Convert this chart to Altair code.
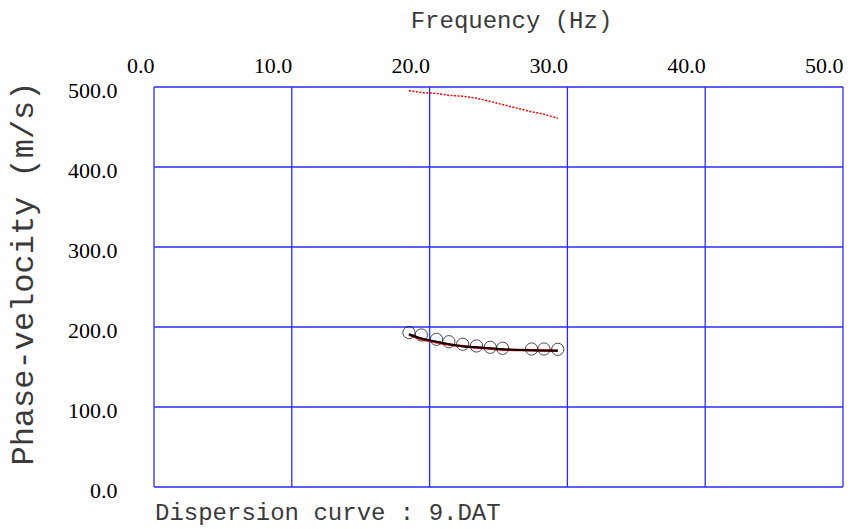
import altair as alt
import pandas as pd

# Frequencies (Hz) of the picked dispersion points
freq = [18.5, 19.4, 20.5, 21.4, 22.4, 23.4, 24.4, 25.3, 27.4, 28.3, 29.3]
# Observed phase velocities (m/s)
observed = [193.0, 190.0, 184.6, 181.6, 178.4, 176.3, 174.6, 173.4, 172.5, 172.5, 172.1]
# Fitted curve (red) and theoretical curve (black)
fitted = [190.5, 185.0, 181.0, 178.0, 175.8, 174.3, 173.0, 172.0, 171.0, 170.6, 170.2]
theory = [191.0, 185.8, 181.7, 178.4, 176.0, 174.6, 173.3, 172.3, 171.0, 170.7, 170.4]
# Higher-mode curve (red dotted)
higher = [495.4, 493.0, 492.0, 489.5, 488.5, 486.0, 482.0, 478.0, 469.0, 466.0, 461.0]

x_ticks = [0, 10, 20, 30, 40, 50]
y_ticks = [0, 100, 200, 300, 400, 500]
footer = ["Dispersion curve : 9.DAT"]

df = pd.DataFrame({
    "freq": freq,
    "observed": observed,
    "fitted": fitted,
    "theory": theory,
    "higher": higher,
})

W, H = 689, 400
PAD_L, PAD_T = 154, 87
GRID = "#2a2aff"
TEXT = "#3a3a3a"

x_scale = alt.Scale(domain=[0, 50], nice=False, zero=False)
y_scale = alt.Scale(domain=[0, 500], nice=False, zero=False)

x_axis = alt.Axis(
    orient="top",
    values=x_ticks,
    format=".1f",
    title="Frequency (Hz)",
    titleFontSize=24,
    titleX=357,
    titleY=-60,
    titleAlign="center",
    titleBaseline="alphabetic",
    labelAlign="right",
    labelBaseline="alphabetic",
    labelPadding=15,
    grid=False,
)
y_axis = alt.Axis(
    orient="left",
    values=y_ticks,
    format=".1f",
    title="Phase-velocity (m/s)",
    titleFontSize=32,
    titleAngle=270,
    titleX=-132,
    titleY=186,
    titleAlign="center",
    titleBaseline="middle",
    labelAlign="right",
    labelBaseline="alphabetic",
    labelPadding=37,
    labelOffset=10,
    grid=False,
)


def X(col="freq"):
    return alt.X(f"{col}:Q", scale=x_scale, axis=x_axis)


def Y(col):
    return alt.Y(f"{col}:Q", scale=y_scale, axis=y_axis)


base = alt.Chart(df)

# grid lines drawn as rules at the tick values
vgrid = alt.Chart(pd.DataFrame({"xt": x_ticks})).mark_rule(color=GRID, strokeWidth=1.3).encode(
    x=X("xt")
)
hgrid = alt.Chart(pd.DataFrame({"yt": y_ticks})).mark_rule(color=GRID, strokeWidth=1.3).encode(
    y=Y("yt")
)

fit_line = base.mark_line(color="#ff0000", strokeWidth=2.5, interpolate="monotone").encode(
    x=X(), y=Y("fitted")
)
theory_line = base.mark_line(color="#000000", strokeWidth=2, interpolate="monotone").encode(
    x=X(), y=Y("theory")
)
points = base.mark_point(shape="circle", filled=False, color="#000000", strokeWidth=1, size=150).encode(
    x=X(), y=Y("observed")
)
higher_line = base.mark_line(color="#ff0000", strokeWidth=1.5, strokeDash=[2, 1.5]).encode(
    x=X(), y=Y("higher")
)
caption = alt.Chart(pd.DataFrame({"label": footer})).mark_text(
    font="Liberation Mono", fontSize=24, color=TEXT, align="left", baseline="alphabetic"
).encode(x=alt.value(1), y=alt.value(433), text="label:N")

chart = (
    alt.layer(vgrid, hgrid, fit_line, theory_line, points, higher_line, caption)
    .properties(
        width=W,
        height=H,
        autosize=alt.AutoSizeParams(type="none"),
        padding={"left": PAD_L, "top": PAD_T, "right": 859 - PAD_L - W, "bottom": 529 - PAD_T - H},
        background="#ffffff",
    )
    .configure_view(stroke=None, strokeWidth=0)
    .configure_axis(
        grid=False,
        ticks=False,
        domain=False,
        labelFont="Liberation Serif",
        labelFontSize=22,
        labelColor="#000000",
        labelFlush=False,
        labelOverlap=False,
        titleFont="Liberation Mono",
        titleFontWeight="normal",
        titleColor=TEXT,
    )
)

chart.save("out.html", embed_options={"renderer": "svg", "actions": False})
